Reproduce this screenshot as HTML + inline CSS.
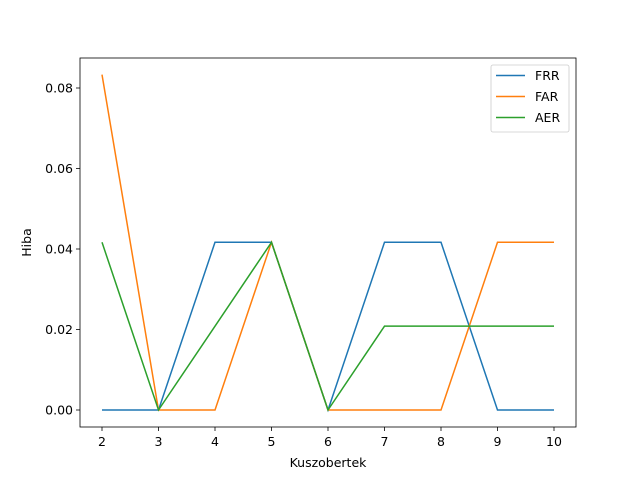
<!DOCTYPE html>
<html><head><meta charset="utf-8"><style>
body{margin:0;background:#fff;}
svg{display:block;font-family:"DejaVu Sans","Liberation Sans",sans-serif;}
</style></head><body>
<svg id="chart" width="640" height="480" viewBox="0 0 640 480" xmlns="http://www.w3.org/2000/svg">
<rect width="640" height="480" fill="#fff"/>
<g id="plot"></g>
</svg>
<script>
const categories=[2,3,4,5,6,7,8,9,10];
const frr=[0,0,0.041667,0.041667,0,0.041667,0.041667,0,0];
const far=[0.083333,0,0,0.041667,0,0,0,0.041667,0.041667];
const aer=[0.041667,0,0.020833,0.041667,0,0.020833,0.020833,0.020833,0.020833];
const yTicks=[0,0.02,0.04,0.06,0.08];
const yTickLabels=["0.00","0.02","0.04","0.06","0.08"];
const seriesNames=["FRR","FAR","AER"];
const NS="http://www.w3.org/2000/svg";
const L=80,R=576,T=58,B=427;
const xs=v=>102+(v-2)*(554-102)/8;
const ys=v=>410-v*(410-88)/0.08;
const g=document.getElementById('plot');
function mk(tag,attrs,parent){const e=document.createElementNS(NS,tag);for(const k in attrs)e.setAttribute(k,attrs[k]);(parent||g).appendChild(e);return e;}
const frame=mk('rect',{x:L,y:T,width:R-L,height:B-T,fill:'none',stroke:'#000','stroke-width':0.8});


categories.forEach(c=>{
  const t=mk('line',{x1:xs(c),x2:xs(c),y1:B,y2:B+4,stroke:'#000','stroke-width':0.8});
  
  
  const tx=mk('text',{x:xs(c),y:B+19,'text-anchor':'middle','font-size':12.5});
  tx.textContent=c;
  
  
});
yTicks.forEach((v,i)=>{
  const t=mk('line',{x1:L-4,x2:L,y1:ys(v),y2:ys(v),stroke:'#000','stroke-width':0.8});
  
  
  const tx=mk('text',{x:L-7,y:ys(v)+4.5,'text-anchor':'end','font-size':12.5});
  tx.textContent=yTickLabels[i];
  
  
});
const xt=mk('text',{x:(L+R)/2,y:467,'text-anchor':'middle','font-size':12.5});
xt.textContent='Kuszobertek';


const yt=mk('text',{x:31,y:(T+B)/2,'text-anchor':'middle','font-size':12.5,transform:'rotate(-90 31 '+((T+B)/2)+')'});
yt.textContent='Hiba';


const colors=['#1f77b4','#ff7f0e','#2ca02c'];
[frr,far,aer].forEach((s,i)=>{
  const p=mk('polyline',{points:s.map((v,j)=>xs(categories[j])+','+ys(v)).join(' '),fill:'none',stroke:colors[i],'stroke-width':1.5});
  
  
});
const lg=mk('g',{});


mk('rect',{x:491,y:65,width:78,height:67,rx:2,fill:'#fff',stroke:'#ccc','stroke-width':0.8},lg);
seriesNames.forEach((n,i)=>{
  const y=75.5+i*21;
  const ln=mk('line',{x1:496,x2:525,y1:y,y2:y,stroke:colors[i],'stroke-width':1.5},lg);
  
  
  const t=mk('text',{x:535,y:y+4.5,'font-size':12.5},lg);
  t.textContent=n;
  
  
});
</script>
</body></html>
